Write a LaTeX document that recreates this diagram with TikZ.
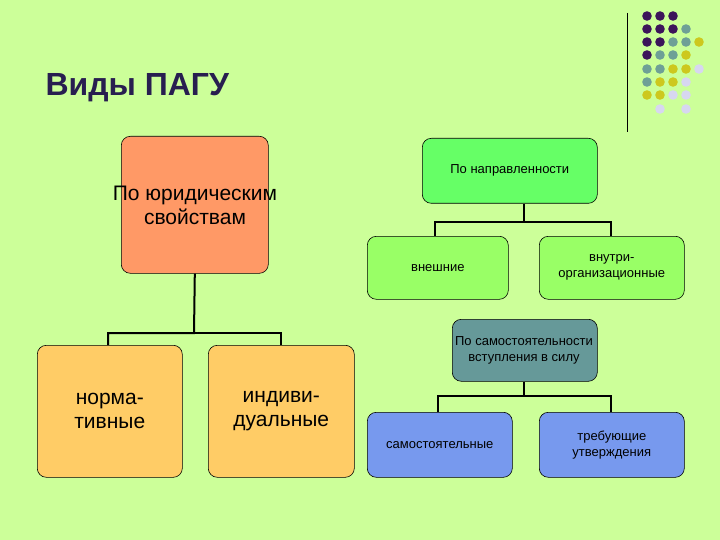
\documentclass[tikz,border=0pt]{standalone}
\usepackage{fontspec}
\setmainfont{Liberation Sans}
\begin{document}
\begin{tikzpicture}[x=1pt,y=-1pt,
  bx/.style={draw=black,line width=0.6pt,rounded corners=9pt,anchor=north west,align=center,inner sep=0pt},
  big/.style={font=\fontsize{21}{24}\selectfont,align=center},
  sm/.style={font=\fontsize{13}{16}\selectfont,align=center},
  cn/.style={line width=2pt},
  dt/.style={radius=4.8}]
\fill[fill={rgb,255:red,204;green,255;blue,153}] (0,0) rectangle (720,540);
\definecolor{pp}{RGB}{60,20,90}\definecolor{tt}{RGB}{110,160,150}
\definecolor{yy}{RGB}{205,200,30}\definecolor{ll}{RGB}{215,215,240}
\node[anchor=west,text={rgb,255:red,40;green,30;blue,80},font=\fontsize{32}{36}\selectfont\bfseries] (title) at (42,88) {Виды ПАГУ};
\draw[line width=1pt] (627,13) -- (627,132);
\foreach \r/\cols in {16/{pp,pp,pp},29/{pp,pp,pp,tt},42/{pp,pp,tt,tt,yy},55/{pp,tt,tt,yy},69/{tt,tt,yy,yy,ll},82/{tt,yy,yy,ll},95/{yy,yy,ll,ll}}{
  \foreach \c [count=\i from 0] in \cols { \fill[\c] (647+13*\i,\r) circle[dt]; } }
\fill[ll] (660,109) circle[dt]; \fill[ll] (686,109) circle[dt];
% boxes
\node[bx,fill={rgb,255:red,255;green,153;blue,102},minimum width=147pt,minimum height=137pt] (a) at (121,136) {};
\node[big] (at) at (195,205) {По юридическим\\свойствам};
\node[bx,big,fill={rgb,255:red,255;green,204;blue,102},minimum width=145pt,minimum height=132pt] (n) at (37,345) {норма-\\тивные};
\node[bx,big,fill={rgb,255:red,255;green,204;blue,102},minimum width=146pt,minimum height=132pt] (i) at (208,345) {индиви-\\дуальные};
\node[bx,sm,fill={rgb,255:red,102;green,255;blue,102},minimum width=175pt,minimum height=65pt] (p) at (422,138) {По направленности};
\node[bx,sm,fill={rgb,255:red,153;green,255;blue,102},minimum width=141pt,minimum height=63pt] (v) at (367,236) {внешние};
\node[bx,sm,fill={rgb,255:red,153;green,255;blue,102},minimum width=145pt,minimum height=63pt] (vo) at (539,236) {внутри-\\организационные};
\node[bx,fill={rgb,255:red,102;green,153;blue,153},minimum width=145pt,minimum height=62pt] (s) at (452,319) {};
\node[sm] (st) at (524,350) {По самостоятельности\\вступления в силу};
\node[bx,sm,fill={rgb,255:red,119;green,153;blue,238},minimum width=145pt,minimum height=65pt] (sa) at (367,412) {самостоятельные};
\node[bx,sm,fill={rgb,255:red,119;green,153;blue,238},minimum width=145pt,minimum height=65pt] (tr) at (539,412) {требующие\\утверждения};
% connectors
\coordinate (j1) at (194,333);
\coordinate (j2) at (524,222);
\coordinate (j3) at (524,396);
\draw[cn] (a.south) -- (j1) -| (n.north -| 108,0);
\draw[cn] (j1) -| (i.north -| 281,0);
\draw[cn] (p.south -| j2) -- (j2) -| (v.north -| 435,0);
\draw[cn] (j2) -| (vo.north -| 611,0);
\draw[cn] (s.south -| j3) -- (j3) -| (sa.north -| 438,0);
\draw[cn] (j3) -| (tr.north -| 611,0);
\end{tikzpicture}
\end{document}
